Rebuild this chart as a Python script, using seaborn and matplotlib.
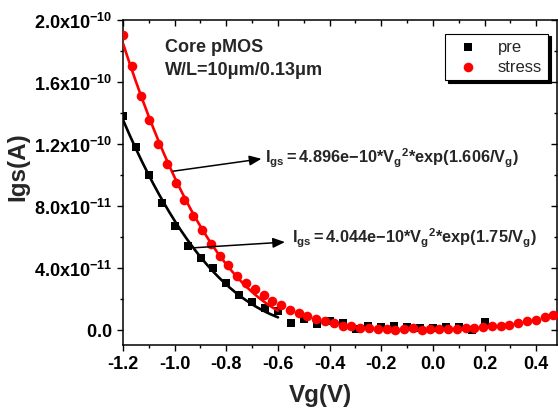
import numpy as np
import pandas as pd
import matplotlib
matplotlib.use("Agg")
import matplotlib.pyplot as plt
import seaborn as sns
from matplotlib.ticker import FixedLocator, MultipleLocator

# ---------------- data ----------------
pre_vg = [-1.20, -1.15, -1.10, -1.05, -1.00, -0.95, -0.90, -0.85, -0.80, -0.75,
          -0.70, -0.65, -0.60, -0.55, -0.50, -0.45, -0.40, -0.35, -0.30, -0.25,
          -0.20, -0.15, -0.10, -0.05, 0.00, 0.05, 0.10, 0.15, 0.20]
pre_igs_e11 = [13.8, 11.8, 10.0, 8.2, 6.7, 5.4, 4.6, 4.0, 3.0, 2.2,
               1.8, 1.4, 1.2, 0.45, 0.7, 0.35, 0.58, 0.4, 0.05, 0.26,
               0.19, 0.26, 0.15, 0.12, 0.10, 0.15, 0.15, -0.02, 0.48]

stress_vg = [-1.200, -1.166, -1.132, -1.098, -1.064, -1.030, -0.996, -0.962, -0.928, -0.894,
             -0.860, -0.826, -0.792, -0.758, -0.724, -0.690, -0.656, -0.622, -0.588, -0.554,
             -0.520, -0.486, -0.452, -0.418, -0.384, -0.350, -0.316, -0.282, -0.248, -0.214,
             -0.180, -0.146, -0.112, -0.078, -0.044, -0.010, 0.024, 0.058, 0.092, 0.126,
             0.160, 0.194, 0.228, 0.262, 0.296, 0.330, 0.364, 0.398, 0.432, 0.466]
stress_igs_e11 = [19.06, 17.04, 15.1, 13.53, 12.02, 10.72, 9.46, 8.34, 7.33, 6.40,
                  5.54, 4.78, 4.14, 3.49, 3.0, 2.63, 2.2, 1.87, 1.57, 1.24,
                  1.06, 0.87, 0.69, 0.54, 0.43, 0.26, 0.22, 0.11, 0.11, 0.05,
                  0.05, 0.0, 0.05, 0.11, -0.02, 0.02, 0.02, 0.05, 0.05, 0.09,
                  0.11, 0.19, 0.22, 0.26, 0.32, 0.43, 0.52, 0.63, 0.78, 0.95]

# fit parameters as printed on the chart: Igs = A * Vg^2 * exp(B / Vg)
fit_pre = [4.044e-10, 1.75]
fit_stress = [4.896e-10, 1.606]
fit_vg_span = [-1.2, -0.6]

series_names = ["pre", "stress"]
x_ticks = [-1.2, -1.0, -0.8, -0.6, -0.4, -0.2, 0.0, 0.2, 0.4]
x_tick_labels = ["-1.2", "-1.0", "-0.8", "-0.6", "-0.4", "-0.2", "0.0", "0.2", "0.4"]
y_ticks = [0.0, 4e-11, 8e-11, 1.2e-10, 1.6e-10, 2.0e-10]
y_tick_labels = ["0.0", "4.0x10^{-11}", "8.0x10^{-11}", "1.2x10^{-10}", "1.6x10^{-10}", "2.0x10^{-10}"]

# ---------------- style ----------------
sns.set_theme(style="ticks")
plt.rcParams["font.family"] = ["Liberation Sans", "DejaVu Sans"]
plt.rcParams["mathtext.fontset"] = "custom"
plt.rcParams["mathtext.rm"] = "Liberation Sans"
plt.rcParams["mathtext.bf"] = "Liberation Sans:bold"
plt.rcParams["mathtext.it"] = "Liberation Sans:italic"
plt.rcParams["mathtext.default"] = "bf"

W, H = 558, 410
fig = plt.figure(figsize=(W / 100, H / 100), dpi=100)
ax_l, ax_r, ax_t, ax_b = 123, 557, 21, 346
ax = fig.add_axes([ax_l / W, 1 - ax_b / H, (ax_r - ax_l) / W, (ax_b - ax_t) / H])


def fpx(x, y):
    return x / W, 1 - y / H


pre_df = pd.DataFrame({"Vg": pre_vg, "Igs": np.array(pre_igs_e11) * 1e-11})
stress_df = pd.DataFrame({"Vg": stress_vg, "Igs": np.array(stress_igs_e11) * 1e-11})

sns.scatterplot(data=pre_df, x="Vg", y="Igs", marker="s", color="black", s=36,
                linewidth=0, ax=ax, label=series_names[0], zorder=3)
sns.scatterplot(data=stress_df, x="Vg", y="Igs", marker="o", color="#ff0000", s=48,
                linewidth=0, ax=ax, label=series_names[1], zorder=4)

vv = np.linspace(fit_vg_span[0], fit_vg_span[1], 200)
fit_df_pre = pd.DataFrame({"Vg": vv, "Igs": fit_pre[0] * vv ** 2 * np.exp(fit_pre[1] / vv)})
fit_df_stress = pd.DataFrame({"Vg": vv, "Igs": fit_stress[0] * vv ** 2 * np.exp(fit_stress[1] / vv)})
sns.lineplot(data=fit_df_pre, x="Vg", y="Igs", color="black", lw=1.9, ax=ax,
             legend=False, zorder=5)
sns.lineplot(data=fit_df_stress, x="Vg", y="Igs", color="#ff0000", lw=1.9, ax=ax,
             legend=False, zorder=5)

ax.set_xlim(-1.2, 0.48)
ax.set_ylim(-1.0e-11, 2.0e-10)
ax.set_xlabel("")
ax.set_ylabel("")

ax.xaxis.set_major_locator(FixedLocator(x_ticks))
ax.xaxis.set_minor_locator(MultipleLocator(0.1))
ax.set_xticklabels(x_tick_labels, fontsize=13, fontweight="bold")
ax.yaxis.set_major_locator(FixedLocator(y_ticks))
ax.yaxis.set_minor_locator(MultipleLocator(2e-11))
ax.set_yticklabels(["$\\mathbf{" + t + "}$" for t in y_tick_labels], fontsize=13)

for sp in ax.spines.values():
    sp.set_visible(True)
    sp.set_linewidth(1.1)
    sp.set_color("black")

ax.tick_params(axis="both", which="major", direction="out", length=4.5, width=1.0,
               color="black", labelcolor="black", pad=3)
ax.tick_params(axis="both", which="minor", direction="out", length=2.5, width=1.0,
               color="black")
ax.tick_params(top=True, right=True, which="both")
ax.tick_params(labeltop=False, labelright=False)
# ticks on top/right point inwards
for t in ax.xaxis.get_major_ticks() + ax.xaxis.get_minor_ticks():
    t.tick2line.set_marker(matplotlib.lines.TICKDOWN)
for t in ax.yaxis.get_major_ticks() + ax.yaxis.get_minor_ticks():
    t.tick2line.set_marker(matplotlib.lines.TICKLEFT)

# legend
leg = ax.legend(loc="upper right", bbox_to_anchor=(0.979, 0.958), borderaxespad=0,
                fontsize=12, frameon=True, fancybox=False, edgecolor="black",
                framealpha=1, handletextpad=0.8, borderpad=0.35, labelspacing=0.3,
                shadow={"color": "black", "alpha": 1.0})
leg.get_frame().set_linewidth(0.8)

# annotations
fig.text(*fpx(165, 52.3), "Core pMOS", fontsize=13, fontweight="bold",
         ha="left", va="baseline")
fig.text(*fpx(165, 75), "W/L=10\u03bcm/0.13\u03bcm", fontsize=13, fontweight="bold",
         ha="left", va="baseline")

eq_stress = r"$\mathbf{I_{gs}{=}4.896e{-}10{*}V_{g}{}^{2}{*}exp(1.606/V_{g})}$"
eq_pre = r"$\mathbf{I_{gs}{=}4.044e{-}10{*}V_{g}{}^{2}{*}exp(1.75/V_{g})}$"
fig.text(*fpx(265, 163.5), eq_stress, fontsize=11.8, ha="left", va="baseline")
fig.text(*fpx(292, 243), eq_pre, fontsize=11.8, ha="left", va="baseline")

arrow_kw = dict(arrowstyle="-|>,head_length=0.6,head_width=0.25", color="black",
                lw=1.1, shrinkA=0, shrinkB=0)
ax.annotate("", xy=(-0.664, 1.103e-10), xytext=(-1.006, 1.023e-10),
            arrowprops=arrow_kw, zorder=6)
ax.annotate("", xy=(-0.573, 5.65e-11), xytext=(-0.927, 5.28e-11),
            arrowprops=arrow_kw, zorder=6)

# axis titles
fig.text(*fpx(18, 167), "Igs(A)", rotation=90, fontsize=17.5, fontweight="bold",
         ha="center", va="center")
fig.text(*fpx(320, 396), "Vg(V)", fontsize=17.5, fontweight="bold",
         ha="center", va="center")

fig.savefig("out.png", dpi=100)
